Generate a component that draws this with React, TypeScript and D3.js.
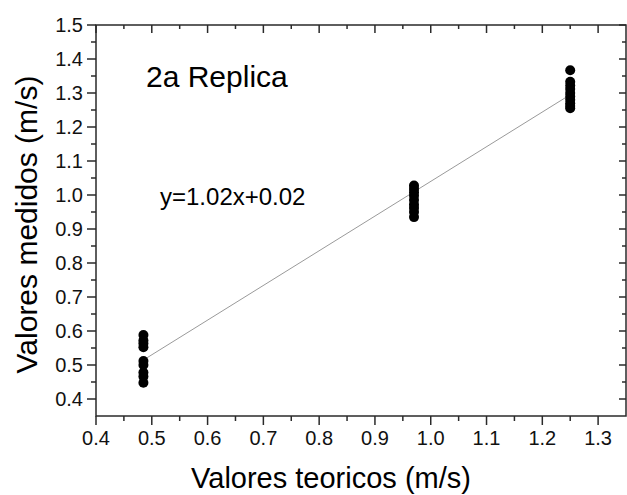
import React from "react";
import * as d3 from "d3";

const xTheo = [0.485, 0.97, 1.25];
const yLeft = [0.588, 0.572, 0.563, 0.552, 0.512, 0.5, 0.478, 0.466, 0.448];
const yMid = [1.028, 1.018, 1.008, 0.998, 0.985, 0.972, 0.962, 0.95, 0.935];
const yRight = [1.367, 1.333, 1.322, 1.312, 1.3, 1.29, 1.28, 1.27, 1.262, 1.255];
const fitSlope = 1.02;
const fitIntercept = 0.02;
const xMajor = [0.4, 0.5, 0.6, 0.7, 0.8, 0.9, 1.0, 1.1, 1.2, 1.3];
const xMinor = [0.45, 0.55, 0.65, 0.75, 0.85, 0.95, 1.05, 1.15, 1.25];
const yMajor = [0.4, 0.5, 0.6, 0.7, 0.8, 0.9, 1.0, 1.1, 1.2, 1.3, 1.4, 1.5];
const yMinor = [0.45, 0.55, 0.65, 0.75, 0.85, 0.95, 1.05, 1.15, 1.25, 1.35, 1.45];

const W = 627;
const H = 495;
const L = 96, R = 626, T = 25, B = 416;
const font = "'Liberation Sans', Arial, Helvetica, sans-serif";
const axisColor = "#2a2a2a";

export default function App() {
  const x = d3.scaleLinear().domain([0.4, 1.35]).range([L, R]);
  const y = d3.scaleLinear().domain([0.35, 1.5]).range([B, T]);
  const groups = [yLeft, yMid, yRight];
  const points = groups.flatMap((g, i) => g.map((v) => ({ x: xTheo[i], y: v })));
  const lineGen = d3.line<number>().x((d) => x(d)).y((d) => y(fitSlope * d + fitIntercept));
  const fitPath = lineGen([xTheo[0], xTheo[2]]) || "";
  const fmt = d3.format(".1f");

  return (
    <svg width={W} height={H} style={{ position: "absolute", left: 0, top: 0, background: "#fff" }}>
      <rect x={0} y={0} width={W} height={H} fill="#fff" />
      <path d={fitPath} stroke="#9a9a9a" strokeWidth={1} fill="none" />
      {points.map((p, i) => (
        <circle key={i} cx={x(p.x)} cy={y(p.y)} r={5} fill="#000" />
      ))}
      {/* frame */}
      <rect x={L} y={T} width={R - L} height={B - T} fill="none" stroke={axisColor} strokeWidth={1.5} />
      {/* bottom ticks (outward) */}
      {xMajor.map((v) => (
        <line key={"bx" + v} x1={x(v)} x2={x(v)} y1={B} y2={B + 9} stroke={axisColor} strokeWidth={1.5} />
      ))}
      {xMinor.map((v) => (
        <line key={"bm" + v} x1={x(v)} x2={x(v)} y1={B} y2={B + 5} stroke={axisColor} strokeWidth={1.5} />
      ))}
      {/* top ticks (inward) */}
      {xMajor.map((v) => (
        <line key={"tx" + v} x1={x(v)} x2={x(v)} y1={T} y2={T + 8} stroke={axisColor} strokeWidth={1.5} />
      ))}
      {xMinor.map((v) => (
        <line key={"tm" + v} x1={x(v)} x2={x(v)} y1={T} y2={T + 4} stroke={axisColor} strokeWidth={1.5} />
      ))}
      {/* left ticks (outward) */}
      {yMajor.map((v) => (
        <line key={"ly" + v} x1={L - 9} x2={L} y1={y(v)} y2={y(v)} stroke={axisColor} strokeWidth={1.5} />
      ))}
      {yMinor.map((v) => (
        <line key={"lm" + v} x1={L - 5} x2={L} y1={y(v)} y2={y(v)} stroke={axisColor} strokeWidth={1.5} />
      ))}
      {/* right ticks (inward) */}
      {yMajor.map((v) => (
        <line key={"ry" + v} x1={R - 7} x2={R} y1={y(v)} y2={y(v)} stroke={axisColor} strokeWidth={1.5} />
      ))}
      {yMinor.map((v) => (
        <line key={"rm" + v} x1={R - 4} x2={R} y1={y(v)} y2={y(v)} stroke={axisColor} strokeWidth={1.5} />
      ))}
      {/* tick labels */}
      {xMajor.map((v) => (
        <text key={"xl" + v} x={x(v)} y={445} textAnchor="middle" fontFamily={font} fontSize={20} fill="#111">
          {fmt(v)}
        </text>
      ))}
      {yMajor.map((v) => (
        <text key={"yl" + v} x={83} y={y(v) + 7} textAnchor="end" fontFamily={font} fontSize={20} fill="#111">
          {fmt(v)}
        </text>
      ))}
      {/* titles */}
      <text x={331} y={488} textAnchor="middle" fontFamily={font} fontSize={29} fill="#000">
        Valores teoricos (m/s)
      </text>
      <text transform={`translate(37, ${(T + B) / 2 + 4}) rotate(-90)`} textAnchor="middle" fontFamily={font} fontSize={30} fill="#000">
        Valores medidos (m/s)
      </text>
      <text x={146} y={87} fontFamily={font} fontSize={30} fill="#000">
        2a Replica
      </text>
      <text x={160} y={205} fontFamily={font} fontSize={24} fill="#000">
        y=1.02x+0.02
      </text>
    </svg>
  );
}
